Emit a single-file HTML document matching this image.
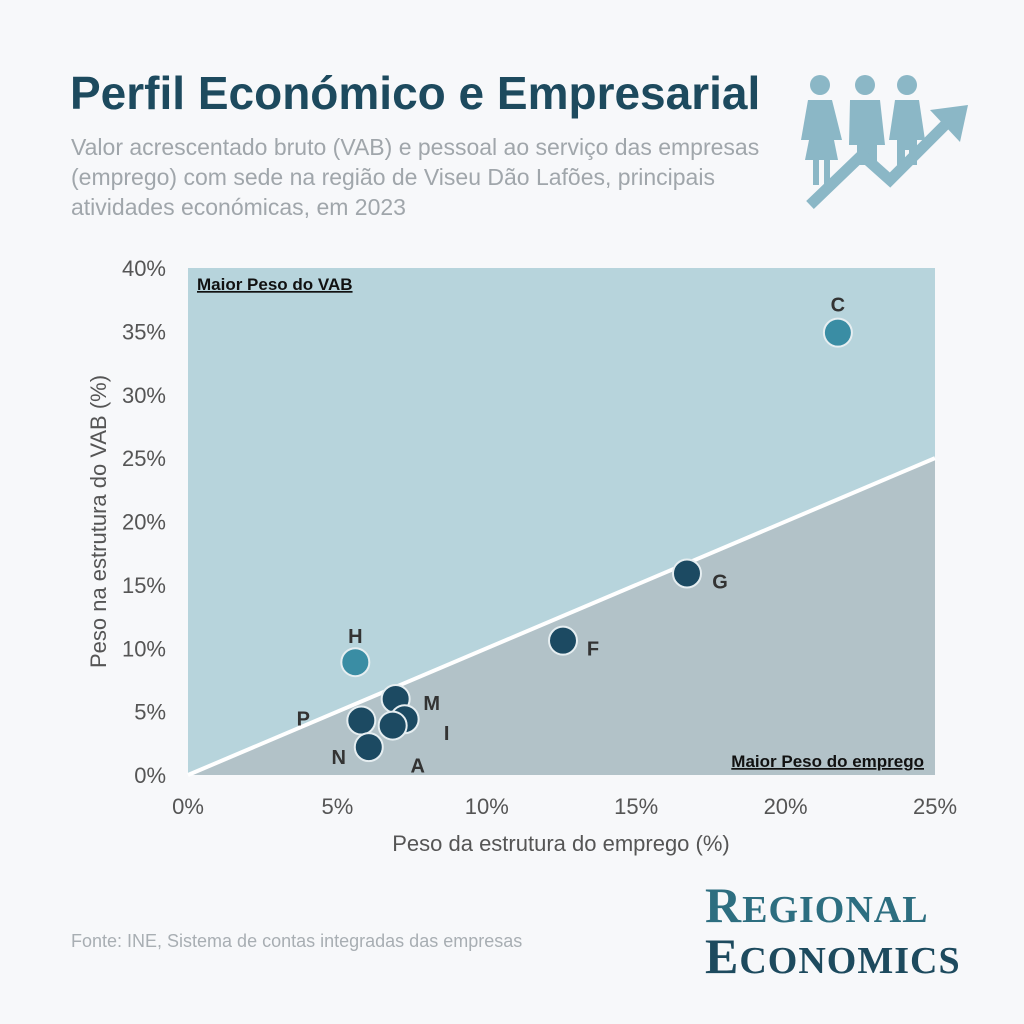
<!DOCTYPE html>
<html><head><meta charset="utf-8"><style>
body{margin:0;background:#f7f8fa;width:1024px;height:1024px;overflow:hidden;font-family:"Liberation Sans",sans-serif}
.t{position:absolute}
</style></head><body>
<div class="t" style="left:70px;top:66px;font-size:46px;font-weight:bold;color:#1d4a5e">Perfil Económico e Empresarial</div>
<div class="t" style="left:71px;top:132px;font-size:23px;line-height:30px;color:#a0a6ab;width:720px">Valor acrescentado bruto (VAB) e pessoal ao serviço das empresas (emprego) com sede na região de Viseu Dão Lafões, principais atividades económicas, em 2023</div>
<svg class="t" style="left:800px;top:70px" width="180" height="145" viewBox="0 0 180 145">
<g fill="#8bb7c6">
<circle cx="20" cy="15" r="10"/><circle cx="65" cy="15" r="10"/><circle cx="107" cy="15" r="10"/>
<path d="M8 30h24l10 40h-8l4 20h-8v25h-6v-25h-5v25h-6v-25h-8l4-20h-8z"/>
<path d="M50 30h30l5 45h-8v20h-20v-20h-8z"/>
<path d="M95 30h24l6 40h-8v25h-8v-15h-4v15h-8v-25h-8z"/>
</g>
<path d="M10 135 L62 85 L90 110 L150 50" stroke="#8bb7c6" stroke-width="11" fill="none"/>
<path d="M130 40 L168 35 L160 72 Z" fill="#8bb7c6"/>
</svg>
<svg class="t" style="left:0;top:0" width="1024" height="1024" id="chart"></svg>
<div class="t" style="left:71px;top:931px;font-size:18px;color:#a8aeb3">Fonte: INE, Sistema de contas integradas das empresas</div>
<div class="t" style="left:705px;top:882px;font-family:'Liberation Serif',serif;color:#2d6e80;line-height:46px;font-weight:bold">
<div style="font-size:50px;letter-spacing:1px">R<span style="font-size:38px">EGIONAL</span></div>
<div style="font-size:50px;color:#1d4a5e;letter-spacing:1px">E<span style="font-size:38px">CONOMICS</span></div></div>
<script>
const labels=["C","G","F","H","M","P","I","A","N"];
const empX=[21.75,16.7,12.55,5.6,6.95,5.8,7.25,6.85,6.05];
const vabY=[34.9,15.9,10.6,8.9,6.0,4.3,4.4,3.9,2.2];
const xTicks=[0,5,10,15,20,25];
const yTicks=[0,5,10,15,20,25,30,35,40];
const NS="http://www.w3.org/2000/svg",svg=document.getElementById('chart');
const X0=188,X1=935,Y0=775,Y1=268;
const sx=v=>X0+(v/25)*(X1-X0), sy=v=>Y0-(v/40)*(Y0-Y1);
function mk(t,a,txt){const e=document.createElementNS(NS,t);for(const k in a)e.setAttribute(k,a[k]);if(txt!=null)e.textContent=txt;svg.appendChild(e);return e;}
let e=mk('rect',{x:X0,y:Y1,width:X1-X0,height:Y0-Y1,fill:'#b7d4dc'});


e=mk('polygon',{points:`${sx(0)},${sy(0)} ${sx(25)},${sy(25)} ${sx(25)},${sy(0)}`,fill:'#b2c2c8'});


e=mk('line',{x1:sx(0),y1:sy(0),x2:sx(25),y2:sy(25),stroke:'#fff','stroke-width':4});


e=mk('text',{x:197,y:290,'font-size':17,'font-weight':'bold','text-decoration':'underline',fill:'#111'},'Maior Peso do VAB');


e=mk('text',{x:924,y:767,'font-size':17,'font-weight':'bold','text-decoration':'underline','text-anchor':'end',fill:'#111'},'Maior Peso do emprego');


xTicks.forEach(v=>{const t=mk('text',{x:sx(v),y:814,'font-size':22,'text-anchor':'middle',fill:'#555'},v+'%');

});
yTicks.forEach(v=>{const t=mk('text',{x:166,y:sy(v)+8,'font-size':22,'text-anchor':'end',fill:'#555'},v+'%');

});
e=mk('text',{x:561,y:851,'font-size':22,'text-anchor':'middle',fill:'#555'},'Peso da estrutura do emprego (%)');


e=mk('text',{x:0,y:0,'font-size':22,'text-anchor':'middle',fill:'#555',transform:`translate(106,${(Y0+Y1)/2}) rotate(-90)`},'Peso na estrutura do VAB (%)');


const teal=["C","H"];
const lab={C:[0,-28],G:[33,8],F:[30,8],H:[0,-26],M:[36,4],P:[-58,-2],I:[42,14],A:[25,40],N:[-30,10]};
labels.forEach((l,i)=>{
 const cx=sx(empX[i]),cy=sy(vabY[i]);
 const c=mk('circle',{cx,cy,r:14,fill:teal.includes(l)?'#3a8da4':'#1c4a62',stroke:'#e6eef1','stroke-width':2});
 
 
 const t=mk('text',{x:cx+lab[l][0],y:cy+lab[l][1]+7,'font-size':20,'font-weight':'bold','text-anchor':'middle',fill:'#333'},l);
 
 
});
</script>
</body></html>
